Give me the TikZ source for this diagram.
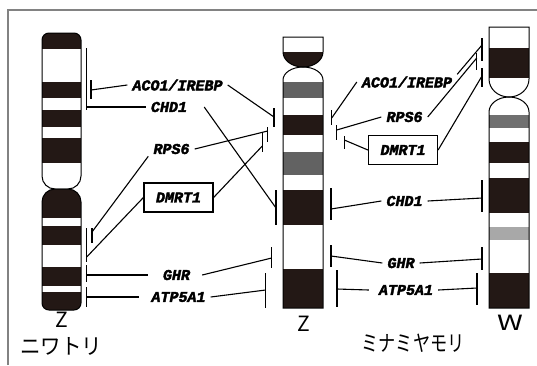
\documentclass[tikz,border=0pt]{standalone}
\usepackage{fontspec}
\newfontfamily\genefont{Liberation Mono}[FakeBold=2.5]
\newfontfamily\jpfont{Noto Sans CJK JP}
\definecolor{band}{RGB}{35,24,21}
\definecolor{greyA}{RGB}{98,98,98}
\definecolor{greyB}{RGB}{112,112,112}
\definecolor{greyC}{RGB}{168,168,168}
\definecolor{framegrey}{RGB}{130,130,130}

\tikzset{
  gene/.style={font=\genefont\bfseries\itshape\fontsize{15}{15}\selectfont, inner xsep=5pt, inner ysep=2pt},
  genebox/.style={font=\genefont\bfseries\itshape\fontsize{15}{15}\selectfont, draw, line width=1.2pt,
                  minimum width=69pt, minimum height=29pt, inner sep=0pt},
  link/.style={line width=1.1pt},
  bar/.style={line width=1.3pt},
  chromline/.style={line width=1pt},
  chromname/.style={font=\jpfont\fontsize{21}{21}\selectfont, inner sep=0pt},
  species/.style={font=\jpfont\fontsize{22}{22}\selectfont, inner sep=0pt},
}

% bracket bar beside a chromosome with the connector's end point
\newcommand\genebar[5]{\draw[bar] (#2,#3) -- (#2,#4); \coordinate (#1) at (#2,#5);}

\begin{document}
\begin{tikzpicture}[x=1pt,y=-1pt]
\useasboundingbox (0,0) rectangle (537,365);

% frame
\draw[framegrey, line width=1.3pt] (8,365) -- (8,10) -- (537,10);

% ---------- chicken Z ----------
\def\armA{(42,110) [rounded corners=13pt] -- (42,189) -- (81,189) -- (81,110) [rounded corners=7pt] -- (81,33) -- (42,33) -- cycle}
\def\armB{(42,250) [rounded corners=13pt] -- (42,189) -- (81,189) -- (81,250) [rounded corners=7pt] -- (81,310) -- (42,310) -- cycle}
\begin{scope}
  \clip \armA;
  \fill[band] (42,30) rectangle (81,49);
  \fill[band] (42,82) rectangle (81,98);
  \fill[band] (42,110) rectangle (81,127);
  \fill[band] (42,138) rectangle (81,163);
\end{scope}
\draw[chromline] \armA;
\begin{scope}
  \clip \armB;
  \fill[band] (42,186) rectangle (81,218);
  \fill[band] (42,226) rectangle (81,245);
  \fill[band] (42,267) rectangle (81,286);
  \fill[band] (42,292) rectangle (81,312);
\end{scope}
\draw[chromline] \armB;

% ---------- lizard Z ----------
\def\armC{(283,37) -- (323,37) -- (323,52) arc[start angle=0, end angle=-180, x radius=20pt, y radius=15pt] -- cycle}
\def\armD{(283,308) -- (283,80) arc[start angle=180, end angle=0, x radius=20pt, y radius=13pt] -- (323,308) -- cycle}
\begin{scope}
  \clip \armC;
  \fill[band] (283,52) rectangle (323,70);
\end{scope}
\draw[chromline] \armC;
\begin{scope}
  \clip \armD;
  \fill[greyA] (283,82) rectangle (323,98);
  \fill[band] (283,115) rectangle (323,135);
  \fill[greyA] (283,152) rectangle (323,175);
  \fill[band] (283,190) rectangle (323,225);
  \fill[band] (283,269) rectangle (323,308);
\end{scope}
\draw[chromline] \armD;

% ---------- lizard W ----------
\def\armE{(489,27) -- (529,27) -- (529,79) arc[start angle=0, end angle=-180, x radius=20pt, y radius=18pt] -- cycle}
\def\armF{(489,308) -- (489,112) arc[start angle=180, end angle=0, x radius=20pt, y radius=15pt] -- (529,308) -- cycle}
\begin{scope}
  \clip \armE;
  \fill[band] (489,48) rectangle (529,78);
\end{scope}
\draw[chromline] \armE;
\begin{scope}
  \clip \armF;
  \fill[greyB] (489,115) rectangle (529,128);
  \fill[band] (489,142) rectangle (529,163);
  \fill[band] (489,178) rectangle (529,213);
  \fill[greyC] (489,227) rectangle (529,240);
  \fill[band] (489,273) rectangle (529,308);
\end{scope}
\draw[chromline] \armF;

% ---------- bracket bars ----------
\genebar{bLaco}{91}{80}{99}{90}
\genebar{bLchd}{86.7}{48}{110}{107}
\genebar{bLrps}{92}{228}{243}{232}
\genebar{bLdmr}{86.7}{228}{262}{257}
\genebar{bLghr}{86.7}{265}{282}{275}
\genebar{bLatp}{86.7}{287}{307}{297}

\genebar{bMaco}{274}{108}{127}{117}
\genebar{bMrps}{267.7}{127}{142}{131}
\genebar{bMdmr}{262.3}{133}{152}{146}
\genebar{bMchd}{276}{190}{225}{208}
\genebar{bMghr}{271.7}{247}{268}{258}
\genebar{bMatp}{265.7}{273}{308}{290}

\genebar{bNaco}{331.7}{110}{125}{118}
\genebar{bNrps}{336.7}{125}{140}{130}
\genebar{bNdmr}{344.3}{136}{149}{140}
\genebar{bNchd}{331}{188}{220}{209}
\genebar{bNghr}{331}{245}{267}{256}
\genebar{bNatp}{337}{270}{307}{289}

\genebar{bWaco}{482}{38}{61}{45}
\genebar{bWrps}{476.7}{53}{70}{58}
\genebar{bWdmr}{482}{68}{87}{76}
\genebar{bWchd}{482}{180}{212}{198}
\genebar{bWghr}{482}{247}{270}{259}
\genebar{bWatp}{477}{273}{305}{288}

% ---------- gene labels ----------
\node[gene] (acoL) at (177.5,85) {ACO1/IREBP};
\node[gene] (chdL) at (169,107) {CHD1};
\node[gene] (rpsL) at (171.5,149) {RPS6};
\node[genebox] (dmrL) at (178.5,197.5) {DMRT1};
\node[gene] (ghrL) at (176.5,275) {GHR};
\node[gene] (atpL) at (178.5,297) {ATP5A1};

\node[gene] (acoR) at (407,82) {ACO1/IREBP};
\node[gene] (rpsR) at (404.5,117) {RPS6};
\node[genebox] (dmrR) at (403,150) {DMRT1};
\node[gene] (chdR) at (404.5,201) {CHD1};
\node[gene] (ghrR) at (401,263) {GHR};
\node[gene] (atpR) at (406,290) {ATP5A1};

% ---------- connectors ----------
\draw[link] (bLaco) -- (acoL.west);
\draw[link] (acoL.east) -- (bMaco);
\draw[link] (bLchd) -- (chdL.west);
\draw[link] ([xshift=12pt]chdL.east) -- (bMchd);
\draw[link] (rpsL.south west) -- (bLrps);
\draw[link] (rpsL.east) -- (bMrps);
\draw[link] (dmrL.west) -- (bLdmr);
\draw[link] (dmrL.east) -- (bMdmr);
\draw[link] (bLghr) -- ([xshift=-10pt]ghrL.west);
\draw[link] ([xshift=7pt]ghrL.east) -- (bMghr);
\draw[link] (bLatp) -- ([xshift=-7pt]atpL.west);
\draw[link] (atpL.east) -- (bMatp);

\draw[link] (bNaco) -- (acoR.west);
\draw[link] (acoR.north east) -- (bWaco);
\draw[link] (bNrps) -- (rpsR.west);
\draw[link] (rpsR.east) -- (bWrps);
\draw[link] (bNdmr) -- (dmrR.west);
\draw[link] (dmrR.east) -- (bWdmr);
\draw[link] (bNchd) -- (chdR.west);
\draw[link] (chdR.east) -- (bWchd);
\draw[link] (bNghr) -- (ghrR.west);
\draw[link] (ghrR.east) -- (bWghr);
\draw[link] (bNatp) -- ([xshift=-5pt]atpR.west);
\draw[link] (atpR.east) -- (bWatp);

% ---------- chromosome and species names ----------
\node[chromname] (zc) at (62,320) {Z};
\node[chromname] (zl) at (304,324) {Z};
\node[chromname, xscale=1.4] (wl) at (510,323) {W};
\node[species, xscale=0.93] (chicken) at (61,346) {ニワトリ};
\node[species, xscale=0.78] (gecko) at (413,343) {ミナミヤモリ};
\end{tikzpicture}
\end{document}
